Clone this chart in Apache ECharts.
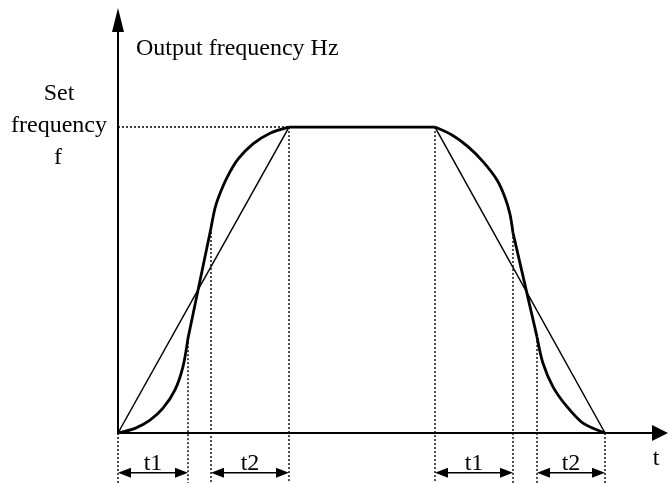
<!DOCTYPE html>
<html>
<head>
<meta charset="utf-8">
<script src="https://cdn.jsdelivr.net/npm/echarts@6/dist/echarts.min.js"></script>
<style>html,body{margin:0;padding:0;background:#fff}#c{width:668px;height:483px}</style>
</head>
<body>
<div id="c"></div>
<script>
// time (arbitrary units) vs output frequency (% of set frequency f)
var sCurveAccelLow  = [[0,0],[17,1.5],[32,4.2],[45,8.1],[57,14.1],[65,21.7],[70,31]];
var sCurveAccelMid  = [[70,31],[93,67]];
var sCurveAccelHigh = [[93,67],[97,73.5],[101,77.5],[109,83.5],[120,89.5],[135,94.5],[152,98],[171,100]];
var plateau         = [[171,100],[317,100]];
var sCurveDecelHigh = [[317,100],[334,97.4],[350,93.6],[365,88.7],[379,82.7],[387,77],[392,71.5],[395,65.4]];
var sCurveDecelMid  = [[395,65.4],[419,31.4]];
var sCurveDecelLow  = [[419,31.4],[425,22.8],[435,15.1],[449,8.6],[465,3.2],[487,0]];
var linearAccel     = [[0,0],[171,100]];
var linearDecel     = [[317,100],[487,0]];

var guideBottom = -16.5;
var setFreqGuide = [[0,100],[171,100]];
var guideXs   = [0, 70, 93, 171, 317, 395, 419, 487];
var guideTops = [0, 31, 67, 100, 100, 65.4, 31.4, 0];

var intervalLabels = ['t1','t2','t1','t2'];
var intervalStart  = [0, 93, 317, 419];
var intervalEnd    = [70, 171, 395, 487];
var intervalLevel  = -13;

var FONT = '24px "Liberation Serif"';
var series = [];
function lineSeries(data, width, type) {
  return {
    type: 'line', data: data, showSymbol: false, symbol: 'none', clip: false,
    smooth: data.length > 2 ? 0.3 : false,
    animation: false, silent: true,
    lineStyle: { color: '#000', width: width, type: type || 'solid' }
  };
}
[sCurveAccelLow, sCurveAccelMid, sCurveAccelHigh, plateau, sCurveDecelHigh, sCurveDecelMid, sCurveDecelLow]
  .forEach(function (d) { series.push(lineSeries(d, 2.8)); });
[linearAccel, linearDecel].forEach(function (d) { series.push(lineSeries(d, 1.5)); });
series.push(lineSeries(setFreqGuide, 1.4, [2, 2]));
guideXs.forEach(function (x, i) {
  series.push(lineSeries([[x, guideTops[i]], [x, guideBottom]], 1.4, [2, 2]));
});

var intervalData = intervalStart.map(function (s, i) { return [s, intervalEnd[i], intervalLevel]; });
series.push({
  type: 'custom', clip: false, silent: true, animation: false,
  encode: { x: [0, 1], y: 2 },
  data: intervalData,
  renderItem: function (params, api) {
    var p0 = api.coord([api.value(0), api.value(2)]);
    var p1 = api.coord([api.value(1), api.value(2)]);
    var y = p0[1], L = 13, H = 5;
    return {
      type: 'group',
      children: [
        { type: 'line', shape: { x1: p0[0] + L - 1, y1: y, x2: p1[0] - L + 1, y2: y },
          style: { stroke: '#000', lineWidth: 1.5 } },
        { type: 'polygon', shape: { points: [[p0[0], y], [p0[0] + L, y - H], [p0[0] + L, y + H]] },
          style: { fill: '#000' } },
        { type: 'polygon', shape: { points: [[p1[0], y], [p1[0] - L, y - H], [p1[0] - L, y + H]] },
          style: { fill: '#000' } },
        { type: 'text', x: (p0[0] + p1[0]) / 2, y: y - 9.5,
          style: { text: intervalLabels[params.dataIndex], fill: '#000', font: FONT,
                   align: 'center', verticalAlign: 'middle' } }
      ]
    };
  }
});

var chart = echarts.init(document.getElementById('c'), null, { renderer: 'canvas' });
chart.setOption({
  backgroundColor: '#fff',
  animation: false,
  grid: { left: 118, right: 8, top: 20, bottom: 50, containLabel: false },
  xAxis: {
    type: 'value', min: 0, max: 542,
    axisLine: { show: true, onZero: false, symbol: ['none', 'triangle'], symbolSize: [16, 16],
                lineStyle: { color: '#000', width: 2 } },
    axisTick: { show: false }, axisLabel: { show: false }, splitLine: { show: false }
  },
  yAxis: {
    type: 'value', min: 0, max: 135,
    axisLine: { show: true, onZero: false, symbol: ['none', 'triangle'], symbolSize: [12, 24],
                lineStyle: { color: '#000', width: 2 } },
    axisTick: { show: false }, axisLabel: { show: false }, splitLine: { show: false }
  },
  graphic: [
    { type: 'text', x: 136, y: 48.5, silent: true,
      style: { text: 'Output frequency Hz', fill: '#000', font: FONT, align: 'left', verticalAlign: 'middle' } },
    { type: 'text', x: 59, y: 94, silent: true,
      style: { text: 'Set', fill: '#000', font: FONT, align: 'center', verticalAlign: 'middle' } },
    { type: 'text', x: 59, y: 126, silent: true,
      style: { text: 'frequency', fill: '#000', font: FONT, align: 'center', verticalAlign: 'middle' } },
    { type: 'text', x: 58, y: 158, silent: true,
      style: { text: 'f', fill: '#000', font: FONT, align: 'center', verticalAlign: 'middle' } },
    { type: 'text', x: 656, y: 459, silent: true,
      style: { text: 't', fill: '#000', font: FONT, align: 'center', verticalAlign: 'middle' } }
  ],
  series: series
});
</script>
</body>
</html>
